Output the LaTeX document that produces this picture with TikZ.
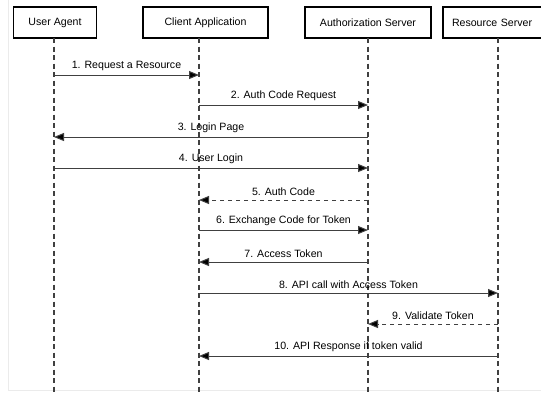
\documentclass[tikz,border=0pt]{standalone}
\usepackage{fontspec}
\setmainfont{Liberation Sans}
\usetikzlibrary{arrows.meta}
\begin{document}
\begin{tikzpicture}[x=1pt,y=-1pt,
  actor/.style={draw=black,line width=1.6pt,fill=white,inner sep=0pt,font=\fontsize{10.6}{12}\selectfont},
  lifeline/.style={draw=black!75,line width=1.1pt,dash pattern=on 5pt off 3.5pt},
  msg/.style={draw=black!75,line width=1pt,-{Triangle[length=10pt,width=8pt,fill=black]}},
  reply/.style={msg,dash pattern=on 4pt off 4pt},
  lbl/.style={font=\fontsize{10.6}{12}\selectfont,inner sep=0pt,anchor=base}]
\useasboundingbox (0,0) rectangle (541,392);
\fill[white] (0,0) rectangle (541,392);
\draw[black!8,line width=0.6pt] (8,0) -- (8,390) -- (541,390);
% actor boxes
\node[actor,minimum width=83pt,minimum height=31pt] (ua) at (55,22.5) {User Agent};
\node[actor,minimum width=125pt,minimum height=31pt] (ca) at (205.5,22.5) {Client Application};
\node[actor,minimum width=126pt,minimum height=31pt] (as) at (368,22.5) {Authorization Server};
\begin{scope}
\clip (0,0) rectangle (541,392);
\node[actor,minimum width=110pt,minimum height=31pt,text width=104pt,align=left] (rs) at (498,22.5) {\hspace{6pt}Resource Server};
\end{scope}
% lifelines
\coordinate (uab) at (54,392);
\coordinate (cab) at (199,392);
\coordinate (asb) at (368,392);
\coordinate (rsb) at (498,392);
\coordinate (uat) at (54,38);
\coordinate (cat) at (199,38);
\coordinate (ast) at (368,38);
\coordinate (rst) at (498,38);
\draw[lifeline] (uat) -- (uab);
\draw[lifeline] (cat) -- (cab);
\draw[lifeline] (ast) -- (asb);
\draw[lifeline] (rst) -- (rsb);
% message end points
\foreach \n/\y in {1/75,2/105,3/137,4/168,5/200,6/230,7/262,8/293,9/324,10/356}{
  \coordinate (u\n) at (54,\y);
  \coordinate (c\n) at (199,\y);
  \coordinate (a\n) at (368,\y);
  \coordinate (r\n) at (498,\y);
}
\draw[msg] (u1) -- node[lbl,above=3.5pt] {1. Request a Resource} (c1);
\draw[msg] (c2) -- node[lbl,above=3.5pt] {2. Auth Code Request} (a2);
\draw[msg] (a3) -- node[lbl,above=3.5pt] {3. Login Page} (u3);
\draw[msg] (u4) -- node[lbl,above=3.5pt] {4. User Login} (a4);
\draw[reply] (a5) -- node[lbl,above=3.5pt] {5. Auth Code} (c5);
\draw[msg] (c6) -- node[lbl,above=3.5pt] {6. Exchange Code for Token} (a6);
\draw[msg] (a7) -- node[lbl,above=3.5pt] {7. Access Token} (c7);
\draw[msg] (c8) -- node[lbl,above=3.5pt] {8. API call with Access Token} (r8);
\draw[reply] (r9) -- node[lbl,above=3.5pt] {9. Validate Token} (a9);
\draw[msg] (r10) -- node[lbl,above=3.5pt] {10. API Response if token valid} (c10);
\end{tikzpicture}
\end{document}
